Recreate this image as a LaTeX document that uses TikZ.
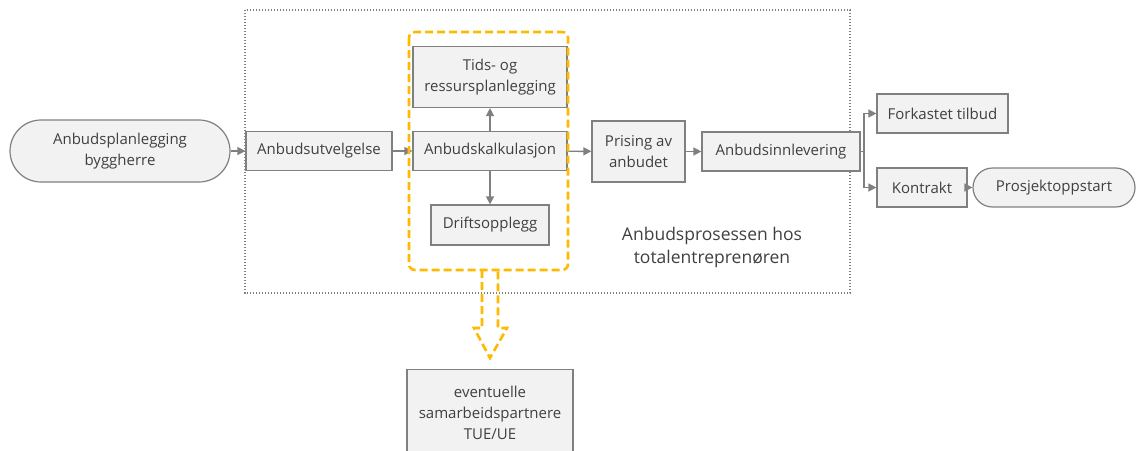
\documentclass[tikz,border=0pt]{standalone}
\usepackage{fontspec}
\setmainfont{Open Sans}
\usetikzlibrary{arrows.meta}
\definecolor{boxfill}{RGB}{242,242,242}
\definecolor{boxline}{RGB}{128,128,128}
\definecolor{textcolor}{RGB}{64,64,64}
\definecolor{goldcolor}{RGB}{255,185,0}

\tikzset{
        stepbox/.style={draw=boxline, fill=boxfill, line width=1.2pt, text=textcolor,
                align=center, inner sep=0pt, font=\fontsize{15}{21}\selectfont},
        flow/.style={draw=boxline, line width=1.4pt, -{Triangle[length=8pt,width=8pt]}},
}

\begin{document}
\begin{tikzpicture}[x=1pt, y=-1pt]
        \useasboundingbox (0,0) rectangle (1137,450); % same size as the screenshot
        \clip (0,0) rectangle (1137,450);

        % Frame round the tender process {{{
        \draw[boxline, line width=1.2pt, dash pattern=on 1.4pt off 1.6pt] (245,10) rectangle (850,293);
        \node[text=textcolor, align=center, font=\fontsize{17.5}{23}\selectfont] (process) at (712,247)
                {Anbudsprosessen hos\\totalentreprenøren};
        % }}}

        % Boxes {{{
        \node[stepbox, minimum width=220pt, minimum height=62pt, rounded corners=31pt] (start) at (120,151) {Anbudsplanlegging\\byggherre};
        \node[stepbox, minimum width=146pt, minimum height=39pt] (select) at (319,151) {Anbudsutvelgelse};
        \node[stepbox, minimum width=154pt, minimum height=61pt] (plan) at (490,77) {Tids- og\\ressursplanlegging};
        \node[stepbox, minimum width=154pt, minimum height=39pt] (calc) at (490,151) {Anbudskalkulasjon};
        \node[stepbox, minimum width=118pt, minimum height=40pt] (ops) at (490,225) {Driftsopplegg};
        \node[stepbox, minimum width=93pt, minimum height=61pt] (price) at (638.5,151.5) {Prising av\\anbudet};
        \node[stepbox, minimum width=158pt, minimum height=39pt] (submit) at (781,151.5) {Anbudsinnlevering};
        \node[stepbox, minimum width=131pt, minimum height=39pt] (reject) at (942.5,113.5) {Forkastet tilbud};
        \node[stepbox, minimum width=90pt, minimum height=39pt] (contract) at (922,187.5) {Kontrakt};
        \node[stepbox, minimum width=162pt, minimum height=39pt, rounded corners=19.5pt] (projstart) at (1054,187.5) {Prosjektoppstart};
        \node[stepbox, minimum width=166pt, minimum height=86pt, anchor=north] (partners) at (490,369)
                {eventuelle\\samarbeidspartnere\\TUE/UE};
        % }}}

        % Connectors {{{
        \coordinate (split) at (864,151.5);
        \draw[flow] (start) -- (select);
        \draw[flow] (select) -- (calc);
        \draw[flow] (calc) -- (plan);
        \draw[flow] (calc) -- (ops);
        \draw[flow] (calc) -- (price);
        \draw[flow] (price) -- (submit);
        \draw[boxline, line width=1.4pt] (submit) -- (split);
        \draw[flow] (split) |- (reject);
        \draw[flow] (split) |- (contract);
        \draw[flow] (contract) -- (projstart);
        % }}}

        % Group round the calculation, with its hollow arrow {{{
        \draw[goldcolor, line width=2.6pt, dash pattern=on 8pt off 4pt, rounded corners=6pt]
                (409,32) rectangle (568,270);
        \coordinate (groupfoot) at (490,270);
        \draw[goldcolor, line width=2.6pt, dash pattern=on 8pt off 4pt]
                (groupfoot) ++(-8,0) -- ++(0,58) -- ++(-8,0) -- (490,358) -- (507,328) -- ++(-9,0) -- ++(0,-58);
        % }}}
\end{tikzpicture}
\end{document}
